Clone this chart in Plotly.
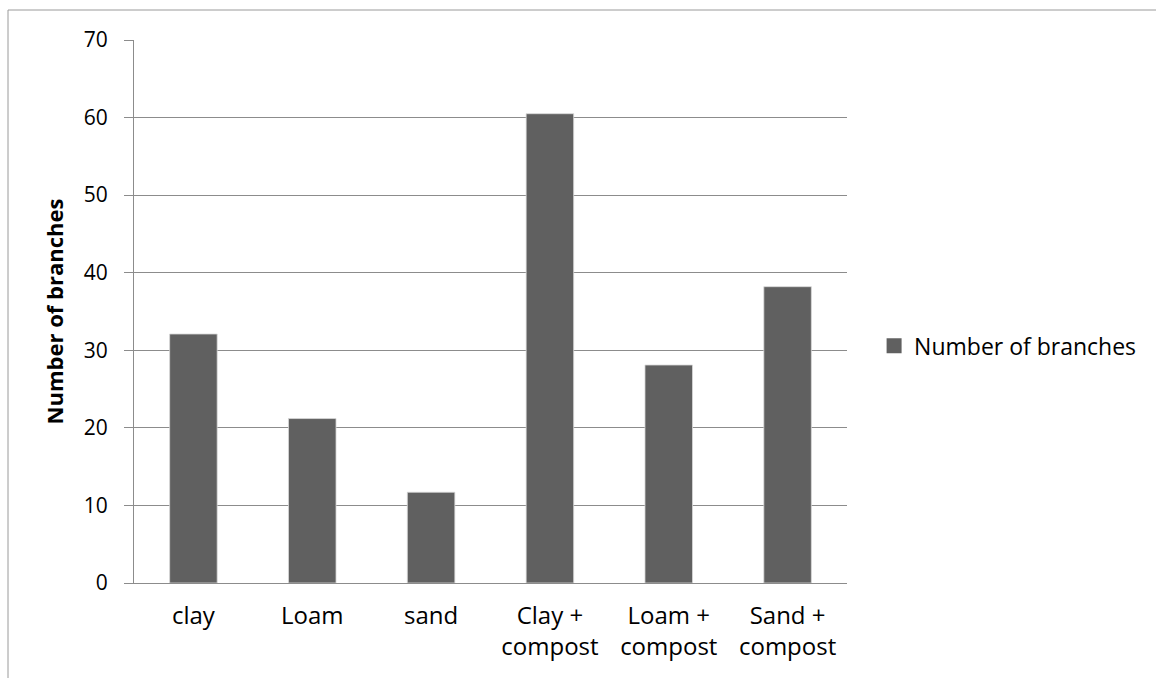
import plotly.graph_objects as go

categories = ["clay", "Loam", "sand", "Clay +<br>compost", "Loam +<br>compost", "Sand +<br>compost"]
branches = [32.1, 21.2, 11.7, 60.5, 28.1, 38.2]
series_name = "Number of branches"
y_ticks = [0, 10, 20, 30, 40, 50, 60, 70]

W, H = 1156, 678
L, R, T, B = 134, 309, 40, 95
FONT = "Open Sans"
BAR = "#606060"
GRID = "#8c8c8c"

fig = go.Figure()
fig.add_trace(go.Bar(
    x=categories, y=branches, name=series_name,
    marker=dict(color=BAR, line=dict(color="#d9d9d9", width=0.8)),
    showlegend=False,
))
fig.add_trace(go.Scatter(
    x=[None], y=[None], mode="markers", name=series_name,
    marker=dict(symbol="square", size=15, color=BAR),
))

pw = W - L - R
ph = H - T - B
def px_x(p):
    return (p - L) / pw
def px_y(p):
    return (H - B - p) / ph

fig.update_layout(
    width=W, height=H,
    margin=dict(l=L, r=R, t=T, b=B, pad=0),
    paper_bgcolor="white", plot_bgcolor="white",
    font=dict(family=FONT, size=23, color="#000000"),
    bargap=0.6,
    xaxis=dict(
        showgrid=False, showline=True, linecolor=GRID, linewidth=1,
        ticks="", tickfont=dict(size=24), ticklabelstandoff=11,
        fixedrange=True,
    ),
    yaxis=dict(
        range=[0, 70], tickvals=y_ticks, showgrid=True, gridcolor=GRID, gridwidth=1,
        showline=True, linecolor=GRID, linewidth=1, zeroline=False,
        ticks="outside", ticklen=9, tickcolor=GRID, tickfont=dict(size=21),
        ticklabelstandoff=12,
        title=dict(text="<b>Number of branches</b>", font=dict(size=22), standoff=14),
    ),
    legend=dict(
        x=1.038, y=0.437, xanchor="left", yanchor="middle",
        font=dict(size=23), bgcolor="rgba(0,0,0,0)", itemsizing="trace",
    ),
    showlegend=True,
    shapes=[
        dict(type="line", xref="paper", yref="paper",
             x0=px_x(8), x1=px_x(1160), y0=px_y(10), y1=px_y(10),
             line=dict(color="#9a9a9a", width=1)),
        dict(type="line", xref="paper", yref="paper",
             x0=px_x(8), x1=px_x(8), y0=px_y(10), y1=px_y(690),
             line=dict(color="#9a9a9a", width=1)),
    ],
)

fig.write_html("out.html")
